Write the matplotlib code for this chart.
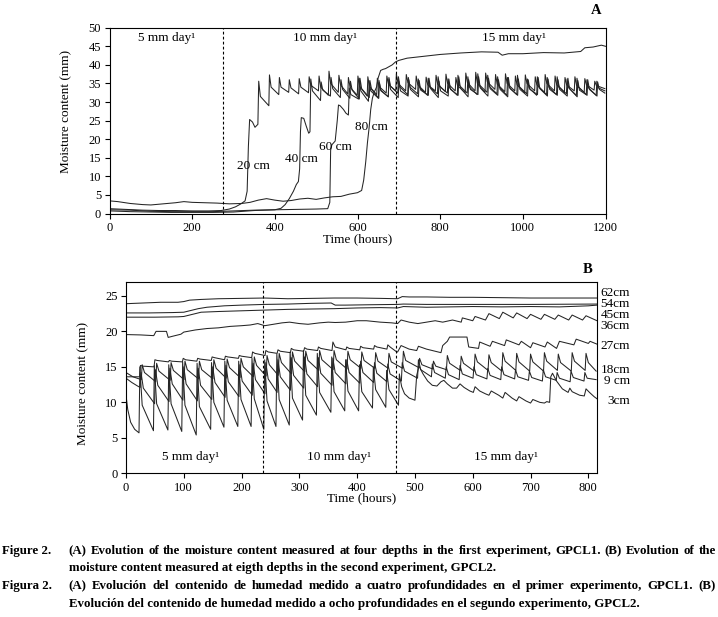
import matplotlib
matplotlib.use("Agg")
import matplotlib.pyplot as plt

plt.rcParams['font.family'] = ['Liberation Serif', 'DejaVu Serif']

# ---------------- Panel A data (GPCL1) ----------------
# 20 cm
a20_lead_t = [0, 40, 80, 120, 160, 200, 240, 270, 290, 305, 318, 328, 333, 336, 339, 346, 352, 359]
a20_lead_v = [1.3, 1.1, 0.9, 0.8, 0.8, 0.7, 0.7, 0.8, 1.2, 1.8, 2.6, 3.4, 6.0, 18.0, 25.3, 24.6, 23.2, 24.0]
a20_peak_t = [361, 387, 411, 435, 459, 483, 507, 531, 555, 578, 601, 625, 648, 671, 694, 718, 742, 766,
              790, 814, 838, 862, 886, 910, 934, 958, 982, 1006, 1030, 1054, 1078, 1102, 1126, 1150, 1174]
a20_peak_v = [35.6, 37.3, 36.6, 36.0, 36.3, 36.8, 37.0, 38.3, 37.2, 36.6, 37.0, 36.8, 36.4, 37.0, 37.6, 37.4, 37.0, 36.7,
              37.2, 37.5, 36.6, 37.8, 38.0, 37.8, 37.4, 37.6, 37.0, 37.3, 36.8, 37.4, 37.0, 36.6, 36.8, 36.3, 35.6]
a20_knee_v = [31.5, 34.0, 34.0, 33.8, 34.0, 34.5, 34.0, 35.0, 34.6, 34.0, 34.2, 34.2, 34.2, 34.8, 35.0, 35.2, 34.6, 34.6,
              34.8, 35.0, 34.4, 35.2, 35.0, 35.4, 34.8, 35.0, 34.6, 35.0, 34.6, 35.0, 34.6, 34.6, 34.5, 34.6, 34.4]
a20_low_v = [29.0, 32.0, 32.6, 32.2, 32.5, 33.0, 31.8, 32.6, 32.2, 31.8, 31.6, 32.0, 32.4, 33.0, 33.0, 33.4, 32.6, 33.0,
             32.8, 33.0, 32.5, 33.0, 32.6, 33.4, 32.8, 33.0, 32.5, 33.0, 32.6, 33.0, 32.5, 33.0, 32.6, 33.2, 33.6]

# 40 cm
a40_lead_t = [0, 50, 100, 150, 200, 250, 300, 350, 400, 415, 425, 435, 445, 452, 457, 460, 462, 464, 470, 476, 482, 485]
a40_lead_v = [1.0, 0.9, 0.6, 0.5, 0.5, 0.5, 0.7, 0.9, 1.0, 1.4, 2.4, 4.0, 6.0, 7.8, 8.6, 12.0, 22.0, 25.8, 25.6, 23.5, 21.6, 22.0]
a40_peak_t = [487, 512, 536, 560, 583, 606, 630, 653, 676, 699, 723, 747, 771, 795, 819, 843, 867, 891,
              915, 939, 963, 987, 1011, 1035, 1059, 1083, 1107, 1131, 1155, 1179]
a40_peak_v = [36.2, 35.4, 36.6, 36.0, 35.6, 36.4, 35.8, 35.2, 36.6, 36.8, 36.6, 36.2, 36.4, 36.8, 36.2, 37.2, 36.8, 37.6,
              37.2, 36.8, 36.6, 37.2, 36.2, 36.8, 36.6, 36.8, 36.2, 36.4, 36.0, 35.6]
a40_knee_v = [33.0, 33.2, 33.6, 33.4, 33.2, 33.6, 33.4, 33.0, 34.2, 34.0, 34.0, 33.8, 34.0, 34.2, 33.8, 34.4, 34.0, 34.6,
              34.2, 34.0, 34.0, 34.2, 33.8, 34.0, 34.0, 34.2, 33.8, 34.0, 33.8, 33.8]
a40_low_v = [30.4, 31.6, 31.2, 31.0, 30.8, 31.2, 31.0, 31.4, 32.4, 32.0, 32.2, 31.8, 32.2, 32.4, 31.8, 32.4, 32.0, 32.6,
             32.2, 31.8, 32.0, 32.2, 31.8, 32.0, 32.0, 32.2, 31.8, 32.0, 31.8, 33.0]

# 60 cm
a60_lead_t = [0, 50, 100, 150, 200, 250, 300, 350, 400, 450, 500, 528, 533, 535, 538, 546, 551, 554, 558, 566, 572, 578]
a60_lead_v = [0.7, 0.5, 0.4, 0.3, 0.3, 0.3, 0.4, 0.8, 1.0, 1.1, 1.2, 1.3, 3.0, 17.0, 18.5, 19.5, 25.0, 29.2, 29.0, 28.0, 27.0, 26.5]
a60_peak_t = [580, 604, 628, 652, 676, 700, 724, 749, 773, 797, 821, 845, 869, 893, 917, 941, 965, 989,
              1013, 1037, 1061, 1085, 1109, 1133, 1157, 1181]
a60_peak_v = [33.8, 36.4, 35.6, 35.8, 36.2, 35.6, 36.0, 35.8, 36.4, 35.6, 36.2, 36.8, 36.0, 36.8, 36.4, 36.0, 36.6, 36.2,
              36.0, 36.6, 36.2, 36.0, 36.4, 35.8, 36.0, 35.4]
a60_knee_v = [32.0, 33.0, 33.0, 33.2, 33.4, 33.0, 33.4, 33.2, 33.6, 33.0, 33.4, 33.8, 33.4, 33.8, 33.6, 33.4, 33.6, 33.4,
              33.4, 33.6, 33.4, 33.4, 33.6, 33.2, 33.4, 33.4]
a60_low_v = [30.8, 30.2, 31.0, 31.4, 31.2, 31.6, 31.4, 31.8, 31.2, 31.6, 31.8, 31.4, 32.0, 31.6, 31.8, 31.4, 31.8, 31.6,
             32.0, 31.6, 31.8, 31.6, 31.4, 31.8, 31.6, 32.4]

# 80 cm
a80_t = [0, 20, 50, 80, 100, 130, 160, 180, 200, 230, 260, 290, 320, 340, 360, 380, 400, 420, 440, 460, 480, 500,
         520, 540, 560, 580, 600, 610, 615, 620, 624, 628, 632, 636, 640, 646, 650, 656, 662, 668, 676, 684, 692,
         700, 720, 760, 800, 850, 900, 940, 950, 965, 1000, 1050, 1100, 1140, 1150, 1170, 1190, 1200]
a80_v = [3.4, 3.2, 2.7, 2.4, 2.3, 2.6, 2.9, 3.2, 3.0, 2.9, 2.8, 2.6, 2.7, 3.0, 3.6, 4.0, 3.6, 3.3, 3.5, 3.9, 4.1, 3.8,
         4.2, 4.5, 4.6, 5.2, 5.6, 6.2, 9.0, 14.0, 19.0, 23.0, 28.0, 31.0, 32.5, 34.0, 36.5, 38.5, 38.8, 39.0, 39.5, 40.0, 40.8,
         41.2, 41.8, 42.3, 42.8, 43.2, 43.5, 43.4, 42.6, 43.0, 43.0, 43.3, 43.2, 43.6, 44.6, 44.8, 45.3, 45.0]

# ---------------- Panel B data (GPCL2) ----------------
b62_t = [0, 30, 60, 90, 100, 110, 130, 160, 200, 240, 280, 320, 360, 400, 440, 470, 478, 490, 520, 560, 600, 650, 700, 750, 815]
b62_v = [23.9, 24.0, 24.1, 24.1, 24.2, 24.4, 24.5, 24.6, 24.65, 24.7, 24.6, 24.65, 24.7, 24.7, 24.65, 24.6, 24.9, 24.85,
         24.85, 24.8, 24.8, 24.75, 24.7, 24.7, 24.7]
b54_t = [0, 40, 80, 100, 110, 125, 140, 170, 200, 240, 280, 320, 355, 362, 380, 420, 470, 480, 520, 600, 700, 815]
b54_v = [22.6, 22.6, 22.65, 22.7, 22.9, 23.2, 23.4, 23.6, 23.7, 23.8, 23.85, 23.95, 24.0, 23.7, 23.7, 23.75, 23.8, 23.85,
         23.8, 23.8, 23.8, 23.85]
b45_t = [0, 50, 90, 100, 115, 130, 160, 200, 240, 280, 320, 360, 400, 440, 470, 480, 520, 560, 600, 650, 700, 750, 800, 815]
b45_v = [22.0, 22.0, 22.05, 22.1, 22.4, 22.7, 22.8, 22.9, 23.0, 23.1, 23.15, 23.2, 23.3, 23.35, 23.3, 23.5, 23.4, 23.45,
         23.5, 23.45, 23.5, 23.45, 23.6, 23.7]
b36_t = [0, 25, 48, 52, 70, 73, 80, 95, 100, 120, 140, 160, 180, 200, 215, 228, 240, 255, 270, 283, 300, 315, 335, 350,
         362, 380, 400, 416, 440, 460, 470, 476, 490, 505, 520, 535, 548, 565, 580, 582, 600, 604, 622, 628, 646, 652,
         670, 676, 694, 700, 718, 724, 742, 748, 766, 772, 790, 796, 815]
b36_v = [19.55, 19.5, 19.4, 20.0, 20.0, 19.15, 19.3, 19.6, 19.9, 20.2, 20.4, 20.5, 20.7, 20.8, 20.9, 21.1, 20.8, 21.0,
         21.2, 21.3, 21.1, 21.0, 21.2, 21.3, 21.25, 21.3, 21.5, 21.5, 21.3, 21.2, 21.1, 21.6, 21.3, 21.1, 21.3, 21.5, 21.3,
         21.6, 21.3, 21.9, 21.5, 22.1, 21.6, 22.5, 21.8, 22.7, 21.9, 22.6, 21.8, 22.4, 21.7, 22.4, 21.7, 22.3, 21.6, 22.3,
         21.6, 22.2, 21.5]

# 27 cm
b27_lead_t = [0, 23.5]
b27_lead_v = [13.6, 13.6]
b27_peak_t = [25, 50, 75, 99, 124, 149, 172, 196, 219, 242, 263, 286, 309, 333, 358, 382, 406, 430, 453]
b27_peak_v = [15.2, 16.0, 15.9, 16.2, 16.2, 16.4, 16.5, 16.6, 17.1, 17.3, 17.4, 17.6, 17.7, 17.8, 18.5, 17.8, 17.9, 18.0, 18.1]
b27_knee_v = [15.1, 15.9, 15.8, 16.0, 16.1, 16.3, 16.4, 16.5, 16.9, 17.1, 17.2, 17.4, 17.5, 17.6, 17.8, 17.6, 17.7, 17.8, 17.8]
b27_low_v = [15.0, 15.7, 15.7, 15.8, 15.9, 16.0, 16.2, 16.3, 16.6, 16.9, 17.0, 17.2, 17.3, 17.3, 17.4, 17.4, 17.5, 17.5, 17.1]
b27_tail_t = [470, 476, 490, 503, 506, 520, 545, 548, 556, 560, 590, 593, 610, 612, 630, 634, 655, 658, 680, 684, 700,
              704, 725, 729, 745, 750, 775, 779, 800, 803, 815]
b27_tail_v = [17.1, 18.0, 17.5, 17.3, 17.9, 17.5, 17.0, 18.0, 18.6, 19.2, 19.2, 17.8, 17.6, 18.5, 17.9, 18.6, 18.0, 18.8,
              18.1, 18.6, 17.7, 18.4, 17.8, 18.5, 17.6, 18.6, 18.1, 18.9, 18.3, 18.6, 18.2]

# 18 cm
b18_lead_t = [0, 12, 26.5]
b18_lead_v = [14.2, 13.6, 13.2]
b18_peak_t = [28, 53, 78, 102, 127, 152, 175, 199, 222, 244, 265, 288, 311, 335, 360, 384, 408, 432, 455, 480,
              508, 532, 556, 580, 604, 628, 652, 676, 700, 724, 748, 772, 796]
b18_peak_v = [15.3, 15.5, 15.6, 15.8, 15.8, 16.0, 16.1, 16.2, 16.4, 16.6, 16.9, 17.1, 17.2, 17.3, 17.3, 17.2, 17.1, 17.0,
              16.9, 17.2, 16.2, 15.8, 16.6, 16.5, 16.8, 16.7, 17.0, 16.9, 16.8, 17.0, 16.8, 17.0, 16.9]
b18_knee_v = [14.2, 14.4, 14.5, 14.6, 14.6, 14.8, 14.9, 15.0, 15.2, 15.3, 15.6, 15.8, 15.9, 16.0, 16.0, 16.0, 15.9, 15.8,
              15.7, 15.9, 15.3, 15.1, 15.5, 15.5, 15.7, 15.6, 15.8, 15.7, 15.7, 15.8, 15.6, 15.8, 15.6]
b18_low_v = [12.9, 13.1, 13.2, 13.3, 13.3, 13.4, 13.5, 13.6, 13.7, 13.8, 14.0, 14.3, 14.5, 14.6, 14.7, 14.8, 14.8, 14.8,
             14.8, 14.9, 14.7, 14.6, 14.5, 14.4, 14.5, 14.4, 14.5, 14.4, 14.4, 14.5, 14.4, 14.5, 14.4]

# 9 cm
b9_lead_t = [0, 10, 20, 24.5]
b9_lead_v = [13.4, 12.8, 12.3, 12.1]
b9_peak_t = [26, 51, 76, 100, 125, 150, 173, 197, 220, 242, 263, 286, 309, 333, 358, 382, 406, 430, 453, 478,
             506, 530, 554, 578, 602, 626, 650, 674, 698, 722, 746, 770, 794]
b9_peak_v = [14.2, 14.6, 14.8, 15.0, 14.8, 15.0, 15.2, 15.3, 15.5, 15.6, 16.0, 16.3, 16.4, 16.3, 16.2, 16.0, 15.8, 15.6,
             15.4, 15.6, 16.0, 15.4, 15.0, 15.2, 15.0, 14.8, 15.0, 14.6, 14.4, 14.6, 14.2, 14.4, 14.2]
b9_knee_v = [12.0, 12.4, 12.6, 12.6, 12.4, 12.8, 12.9, 13.0, 13.2, 13.3, 13.6, 13.8, 14.0, 14.1, 14.2, 14.2, 14.2, 14.1,
             14.0, 14.4, 14.6, 14.2, 13.9, 14.0, 13.9, 13.8, 13.9, 13.6, 13.5, 13.6, 13.4, 13.5, 13.4]
b9_low_v = [9.8, 10.1, 10.3, 10.2, 10.4, 10.7, 10.8, 11.0, 11.2, 11.4, 11.7, 12.0, 12.2, 12.4, 12.6, 12.7, 12.8, 12.9,
            13.0, 13.4, 13.6, 13.4, 13.2, 13.4, 13.3, 13.2, 13.3, 13.1, 13.0, 13.1, 12.9, 13.0, 13.2]

# 3 cm
b3_lead_t = [0, 3, 8, 15, 22.5]
b3_lead_v = [11.0, 9.0, 7.2, 6.2, 5.7]
b3_peak_t = [24, 49, 74, 98, 123, 148, 171, 195, 218, 240, 261, 284, 307, 331, 356, 380, 404, 428, 451]
b3_peak_v = [15.0, 15.2, 15.3, 15.7, 15.5, 15.6, 15.8, 15.8, 16.2, 16.0, 16.8, 17.1, 17.3, 16.9, 16.4, 16.0, 15.3, 15.0, 14.5]
b3_knee_v = [9.6, 9.8, 9.8, 9.6, 9.4, 10.0, 10.3, 10.4, 10.5, 10.2, 10.4, 10.6, 11.0, 11.4, 11.5, 11.6, 11.5, 11.8, 11.8]
b3_low_v = [6.0, 6.1, 5.9, 5.4, 6.2, 6.5, 6.6, 6.6, 6.2, 6.6, 6.8, 7.5, 8.2, 8.6, 8.8, 8.8, 9.2, 9.3, 9.6]
b3_tail_t = [473, 477, 482, 490, 500, 503, 507, 514, 522, 530, 538, 545, 550, 556, 565, 572, 578, 585, 595, 601, 604,
             612, 622, 628, 632, 645, 652, 656, 668, 676, 680, 692, 700, 704, 716, 724, 728, 733, 735, 738, 745, 755,
             765, 768, 772, 785, 793, 796, 802, 810, 815]
b3_tail_v = [14.0, 12.2, 11.2, 10.6, 10.3, 13.8, 15.1, 14.0, 13.0, 12.4, 12.3, 12.9, 13.1, 12.6, 12.0, 12.0, 12.6, 12.1,
             11.6, 11.4, 12.2, 11.6, 11.2, 11.0, 11.6, 11.0, 10.6, 11.4, 10.6, 10.2, 10.8, 10.2, 9.9, 10.4, 10.0, 9.9,
             10.1, 10.0, 13.6, 14.1, 13.0, 11.9, 11.4, 12.0, 11.5, 11.0, 10.9, 11.9, 11.4, 10.8, 10.5]

b_labels = ['62cm', '54cm', '45cm', '36cm', '27cm', '18cm', '9 cm', '3cm']
b_label_y = [25.47, 23.83, 22.28, 20.78, 17.97, 14.54, 12.99, 10.2]

rates = ['5 mm day¹', '10 mm day¹', '15 mm day¹']
a_rate_x = [138, 522, 978]
b_rate_x = [111, 368, 658]
a_phase = [275, 692]
b_phase = [237, 468]
a_depths = ['20 cm', '40 cm', '60 cm', '80 cm']
a_depth_x = [348, 464, 546, 633]
a_depth_y = [12.9, 14.7, 18.0, 23.2]

caption_en = ["(A) Evolution of the moisture content measured at four depths in the first experiment, GPCL1. (B) Evolution of the",
              "moisture content measured at eigth depths in the second experiment, GPCL2."]
caption_es = ["(A) Evolución del contenido de humedad medido a cuatro profundidades en el primer experimento, GPCL1. (B)",
              "Evolución del contenido de humedad medido a ocho profundidades en el segundo experimento, GPCL2."]


def teeth(tp, vp, vk, vl, t_end):
    # each daily pulse: sharp rise at tp, knee a few hours later, low just before the next pulse
    ts, vs = [], []
    for i, t0 in enumerate(tp):
        t1 = tp[i + 1] if i + 1 < len(tp) else t_end
        ts += [t0, t0 + 4, t1 - 1.5]
        vs += [vp[i], vk[i], vl[i]]
    return ts, vs


def series(lead_t, lead_v, tp, vp, vk, vl, t_end, tail_t=(), tail_v=()):
    ts, vs = teeth(tp, vp, vk, vl, t_end)
    return list(lead_t) + ts + list(tail_t), list(lead_v) + vs + list(tail_v)


W, H = 718, 617
fig = plt.figure(figsize=(W / 100, H / 100), dpi=100)


def px_axes(l, t, r, b):
    return fig.add_axes([l / W, 1 - b / H, (r - l) / W, (b - t) / H])


axA = px_axes(109.5, 27.7, 605.5, 213.5)
axB = px_axes(126, 281.7, 597, 473.3)

lc = '#252525'
lw = 0.75

# ---- panel A ----
for s in [series(a20_lead_t, a20_lead_v, a20_peak_t, a20_peak_v, a20_knee_v, a20_low_v, 1200),
          series(a40_lead_t, a40_lead_v, a40_peak_t, a40_peak_v, a40_knee_v, a40_low_v, 1200),
          series(a60_lead_t, a60_lead_v, a60_peak_t, a60_peak_v, a60_knee_v, a60_low_v, 1200),
          (a80_t, a80_v)]:
    axA.plot(s[0], s[1], color=lc, lw=lw)
for x in a_phase:
    axA.axvline(x, color='black', ls=(0, (2.5, 2)), lw=0.8)
for lab, x in zip(rates, a_rate_x):
    axA.text(x, 47.3, lab, ha='center', va='center', fontsize=9.5)
for lab, x, y in zip(a_depths, a_depth_x, a_depth_y):
    axA.text(x, y, lab, ha='center', va='center', fontsize=9.5)
axA.set_xlim(0, 1200)
axA.set_ylim(0, 50)
axA.set_xticks(range(0, 1201, 200))
axA.set_yticks(range(0, 51, 5))
fig.text(595.7 / W, 1 - 11 / H, 'A', ha='center', va='center', fontsize=10.5, fontweight='bold')

# ---- panel B ----
for s in [(b62_t, b62_v), (b54_t, b54_v), (b45_t, b45_v), (b36_t, b36_v),
          series(b27_lead_t, b27_lead_v, b27_peak_t, b27_peak_v, b27_knee_v, b27_low_v, 470, b27_tail_t, b27_tail_v),
          series(b18_lead_t, b18_lead_v, b18_peak_t, b18_peak_v, b18_knee_v, b18_low_v, 815),
          series(b9_lead_t, b9_lead_v, b9_peak_t, b9_peak_v, b9_knee_v, b9_low_v, 815),
          series(b3_lead_t, b3_lead_v, b3_peak_t, b3_peak_v, b3_knee_v, b3_low_v, 473, b3_tail_t, b3_tail_v)]:
    axB.plot(s[0], s[1], color=lc, lw=lw)
for x in b_phase:
    axB.axvline(x, color='black', ls=(0, (2.5, 2)), lw=0.8)
for lab, x in zip(rates, b_rate_x):
    axB.text(x, 2.25, lab, ha='center', va='center', fontsize=9.5)
for lab, y in zip(b_labels, b_label_y):
    axB.text(1.070, y, lab, ha='right', va='center', fontsize=9.5,
             transform=axB.get_yaxis_transform())
axB.set_xlim(0, 815)
axB.set_ylim(0, 27)
axB.set_xticks(range(0, 801, 100))
axB.set_yticks(range(0, 26, 5))
fig.text(588 / W, 1 - 269 / H, 'B', ha='center', va='center', fontsize=10.5, fontweight='bold')

for ax, ylx, yly in [(axA, -0.0756, 0.55), (axB, -0.0786, 0.47)]:
    ax.set_ylabel('Moisture content (mm)', fontsize=9.5)
    ax.set_xlabel('Time (hours)', fontsize=9.5)
    ax.yaxis.set_label_coords(ylx, yly)
    ax.tick_params(direction='out', length=3.5, width=0.8, labelsize=9, pad=2.5)
    for sp in ax.spines.values():
        sp.set_linewidth(0.8)
axA.xaxis.set_label_coords(0.5, -0.105)
axB.xaxis.set_label_coords(0.5, -0.1)

# ---- caption (justified full lines) ----
renderer = fig.canvas.get_renderer()
cap_kw = dict(fontsize=9.3, fontweight='bold', va='center')


def justified(line, x0, x1, y):
    words = line.split(' ')
    txts = [fig.text(0, 1 - y / H, w, **cap_kw) for w in words]
    widths = [t.get_window_extent(renderer).width for t in txts]
    gap = (x1 - x0 - sum(widths)) / (len(words) - 1)
    x = x0
    for t, w in zip(txts, widths):
        t.set_x(x / W)
        x += w + gap


cap_y = [551, 568.5, 586, 603.5]
fig.text(2 / W, 1 - cap_y[0] / H, 'Figure 2.', **cap_kw)
justified(caption_en[0], 68.7, 716, cap_y[0])
fig.text(68.7 / W, 1 - cap_y[1] / H, caption_en[1], **cap_kw)
fig.text(2 / W, 1 - cap_y[2] / H, 'Figura 2.', **cap_kw)
justified(caption_es[0], 68.7, 716, cap_y[2])
fig.text(68.7 / W, 1 - cap_y[3] / H, caption_es[1], **cap_kw)

fig.savefig('out.png', dpi=100)
